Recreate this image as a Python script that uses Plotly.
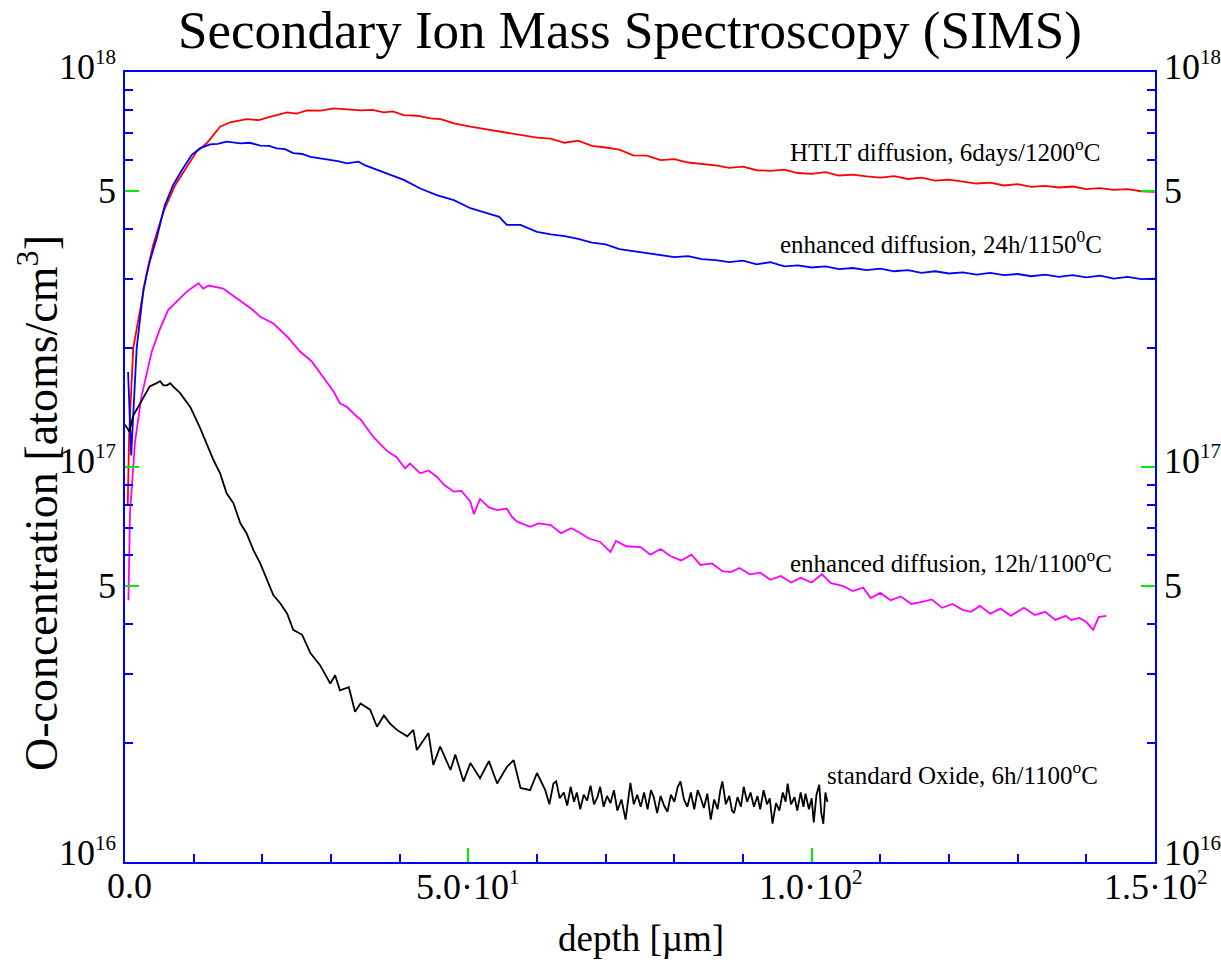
import plotly.graph_objects as go

# ---------------- data ----------------
E16, E17 = 1e16, 1e17

red_x = [0.4, 0.6, 1.2, 2.2, 3.2, 4.1, 5.6, 7.3, 9.0, 10.4, 11.9, 12.9, 13.85, 15.3, 17.7, 19.5, 21.1,
         23.6, 25.0, 26.5, 28.5, 30.4, 32.5, 34.3, 36.0, 37.7, 39.0, 40.6, 42.5, 44.5, 46.0, 47.9, 50.3,
         52.7, 55.1, 57.5, 60.0, 62, 64, 66, 68, 70, 72, 74, 76, 78, 80, 82, 84, 86, 88, 90, 92, 94, 96,
         98, 100, 102, 104, 106, 108, 110, 112, 114, 116, 118, 120, 122, 124, 126, 128, 130, 132, 134,
         136, 138, 140, 142, 144, 146, 148, 150]
red_y = [0.80, 1.2, 2.0, 2.49, 3.12, 3.65, 4.43, 5.17, 5.76, 6.28, 6.6, 6.93, 7.27, 7.46, 7.6, 7.55, 7.7,
         7.9, 7.85, 8.0, 7.98, 8.09, 8.05, 8.0, 8.02, 7.9, 7.95, 7.78, 7.75, 7.63, 7.6, 7.41, 7.27,
         7.16, 7.03, 6.95, 6.82, 6.78, 6.62, 6.70, 6.50, 6.44, 6.36, 6.15, 6.14, 5.98, 6.02, 5.90, 5.86,
         5.80, 5.72, 5.76, 5.64, 5.62, 5.66, 5.55, 5.52, 5.58, 5.47, 5.50, 5.44, 5.40, 5.45, 5.36, 5.40,
         5.31, 5.34, 5.28, 5.22, 5.25, 5.16, 5.20, 5.12, 5.15, 5.10, 5.13, 5.05, 5.08, 5.03, 5.05, 4.99, 4.97]

blue_x = [0.45, 0.9, 1.7, 2.7, 3.6, 4.6, 5.8, 7.0, 8.3, 9.7, 10.9, 12.4, 13.5, 14.8, 16.8, 18.2, 19.7,
          21.0, 22.1, 23.3, 24.5, 25.8, 27.0, 28.2, 29.4, 31.0, 32.3, 34.0, 35.0, 36.2, 38.1, 40.6, 43.0,
          45.4, 47.9, 50.3, 52.7, 54.5, 55.6, 57.6, 60, 62, 64, 66, 68, 70, 72, 74, 76, 78, 80, 82, 84,
          86, 88, 90, 92, 94, 96, 98, 100, 102, 104, 106, 108, 110, 112, 114, 116, 118, 120, 122, 124,
          126, 128, 130, 132, 134, 136, 138, 140, 142, 144, 146, 148, 150]
blue_y = [1.74, 1.07, 2.0, 2.83, 3.31, 3.79, 4.6, 5.17, 5.65, 6.16, 6.41, 6.56, 6.58, 6.66, 6.6, 6.62, 6.51,
          6.5, 6.41, 6.38, 6.23, 6.2, 6.1, 6.05, 5.99, 5.95, 5.87, 5.93, 5.8, 5.7, 5.54, 5.33, 5.07,
          4.88, 4.74, 4.52, 4.39, 4.3, 4.1, 4.1, 3.94, 3.88, 3.84, 3.78, 3.70, 3.66, 3.56, 3.52, 3.48,
          3.44, 3.40, 3.42, 3.36, 3.34, 3.30, 3.33, 3.26, 3.30, 3.22, 3.24, 3.20, 3.22, 3.17, 3.19, 3.15,
          3.18, 3.13, 3.15, 3.10, 3.13, 3.09, 3.11, 3.07, 3.10, 3.06, 3.08, 3.04, 3.07, 3.03, 3.06, 3.02,
          3.05, 3.00, 3.03, 2.99, 3.00]

magenta_x = [0.5, 0.73, 1.46, 2.4, 3.9, 5.1, 6.3, 7.5, 9.0, 10.7, 11.4, 12.2, 13.1, 14.3, 15.3, 16.3,
             17.7, 18.6, 19.7, 21.6, 23.6, 25.5, 27.2, 28.4, 30.4, 31.3, 32.3, 33.8, 34.3, 36.2, 38.1,
             39.5, 40.8, 41.5, 43.0, 44.2, 45.4, 46.5, 47.9, 49.0, 50.3, 50.8, 51.7, 53.0, 54.2, 55.6,
             56.3, 57.1, 59.0, 60.2, 62.0, 63.5, 65.0, 66.3, 67.5, 69.2, 70.7, 71.5, 73.0, 75.1, 76.5,
             78.0, 79.4, 81.0, 82.5, 83.8, 85.5, 87.0, 88.2, 89.5, 91.0, 92.5, 94.0, 95.5, 97.0, 98.4,
             100.0, 101.5, 102.8, 104.5, 106.0, 107.5, 108.6, 110.0, 111.5, 113.0, 114.5, 115.9, 117.5,
             119.0, 120.5, 122.0, 123.2, 124.5, 126.0, 127.5, 129.0, 130.9, 132.5, 134.0, 135.5, 137.0,
             137.8, 139.0, 140.0, 141.0, 141.8, 142.9]
magenta_y = [4.6, 7.65, 11.6, 15.1, 19.6, 22.4, 25.0, 26.2, 27.8, 29.2, 28.3, 28.8, 28.6, 28.3, 27.5, 26.7,
             25.7, 25.0, 24.0, 23.1, 21.4, 19.6, 18.5, 17.3, 15.5, 14.5, 14.2, 13.4, 13.2, 11.9, 11.0,
             10.6, 9.92, 10.2, 9.64, 9.8, 9.45, 9.0, 8.66, 8.7, 8.17, 7.6, 8.3, 7.9, 7.78, 7.85,
             7.5, 7.27, 7.06, 7.2, 7.13, 6.8, 7.0, 6.81, 6.6, 6.46, 6.09, 6.5, 6.3, 6.27, 6.0,
             6.2, 5.95, 5.8, 6.0, 5.65, 5.7, 5.45, 5.42, 5.55, 5.35, 5.4, 5.18, 5.3, 5.1, 5.24,
             5.1, 5.35, 5.08, 5.0, 4.85, 4.95, 4.66, 4.8, 4.6, 4.7, 4.5, 4.55, 4.62,
             4.4, 4.5, 4.35, 4.3, 4.45, 4.25, 4.38, 4.2, 4.4, 4.22, 4.3, 4.1, 4.2,
             4.1, 4.15, 4.05, 3.87, 4.17, 4.2]

black_x = [0.0, 0.63, 1.2, 2.2, 2.9, 3.6, 4.6, 5.1, 5.6, 6.1, 6.6, 7.0, 8.0, 9.5, 10.9, 11.9, 12.9,
           13.85, 14.8, 15.8, 16.8, 17.7, 18.7, 19.7, 20.7, 21.6, 22.6, 23.6, 24.5, 25.8, 27.0, 28.4,
           29.9, 30.6, 31.3, 32.6, 33.5, 34.3, 35.7, 36.7, 37.7, 38.6, 39.6, 41.1, 42.0, 42.5, 44.2,
           44.9, 45.9, 47.4, 48.1, 49.3, 50.3, 51.7, 53.0, 54.2, 55.6, 56.6, 57.6, 59.0, 60.0,
           61.2, 61.8, 62.4, 62.8, 63.3, 63.9, 64.4, 64.9, 65.4, 65.8, 66.3, 66.8, 67.3, 67.8, 68.3,
           68.8, 69.2, 69.7, 70.2, 70.7, 71.2, 71.7, 72.3, 72.9, 73.3, 73.6, 74.1, 74.6, 75.1, 75.6,
           76.1, 76.6, 77.0, 77.5, 78.0, 78.5, 79.0, 79.5, 80.0, 80.5, 80.9, 81.4, 81.9, 82.4, 82.9,
           83.4, 83.8, 84.3, 84.8, 85.3, 85.8, 86.3, 86.7, 87.0, 87.5, 88.0, 88.4, 88.7, 89.2, 89.7,
           90.1, 90.6, 91.1, 91.6, 92.1, 92.5, 93.0, 93.5, 93.9, 94.3, 94.8, 95.3, 95.8, 96.2, 96.5,
           97.0, 97.5, 97.9, 98.4, 98.8, 99.1, 99.6, 100.0, 100.3, 100.7, 101.1, 101.4, 101.7, 102.0,
           102.3]
black_y = [12.8, 12.3, 13.5, 14.5, 15.2, 16.0, 16.3, 16.5, 16.1, 16.1, 16.3, 16.0, 15.4, 14.2, 12.6, 11.5, 10.4,
           9.64, 8.58, 8.09, 7.2, 6.8, 6.16, 5.7, 5.18, 4.74, 4.52, 4.26, 3.87, 3.76, 3.38, 3.15,
           2.83, 2.97, 2.72, 2.77, 2.40, 2.52, 2.43, 2.20, 2.35, 2.24, 2.16, 2.08, 2.16, 1.92, 2.12,
           1.76, 1.96, 1.71, 1.87, 1.60, 1.78, 1.63, 1.80, 1.58, 1.74, 1.81, 1.54, 1.52, 1.68,
           1.52, 1.40, 1.58, 1.60, 1.45, 1.50, 1.39, 1.55, 1.42, 1.50, 1.36, 1.48, 1.43, 1.56, 1.40,
           1.46, 1.55, 1.38, 1.47, 1.41, 1.52, 1.35, 1.44, 1.28, 1.45, 1.585, 1.40, 1.48, 1.38, 1.50,
           1.36, 1.52, 1.46, 1.33, 1.47, 1.39, 1.34, 1.48, 1.42, 1.55, 1.60, 1.44, 1.38, 1.50, 1.36,
           1.52, 1.46, 1.37, 1.49, 1.28, 1.44, 1.36, 1.52, 1.60, 1.40, 1.47, 1.35, 1.33, 1.46, 1.38,
           1.55, 1.42, 1.50, 1.38, 1.47, 1.36, 1.52, 1.40, 1.45, 1.25, 1.41, 1.35, 1.50, 1.42, 1.58,
           1.40, 1.46, 1.35, 1.50, 1.38, 1.49, 1.36, 1.45, 1.26, 1.48, 1.57, 1.33, 1.25, 1.50,
           1.42]

series = [
    ("HTLT diffusion, 6days/1200°C", red_x, [v * E17 for v in red_y], "#ff0000"),
    ("enhanced diffusion, 24h/1150°C", blue_x, [v * E17 for v in blue_y], "#0000ff"),
    ("enhanced diffusion, 12h/1100°C", magenta_x, [v * E16 for v in magenta_y], "#ff00ff"),
    ("standard Oxide, 6h/1100°C", black_x, [v * E16 for v in black_y], "#000000"),
]

x_major = [50, 100]
x_minor = [10, 20, 30, 40, 60, 70, 80, 90, 110, 120, 130, 140]
y_major = [5e16, 1e17, 5e17]
y_minor = [2e16, 3e16, 4e16, 6e16, 7e16, 8e16, 9e16, 2e17, 3e17, 4e17, 6e17, 7e17, 8e17, 9e17]

# ---------------- figure ----------------
W, H = 1221, 963
L, R, T, B = 125, 1155, 72, 862
FONT = "Liberation Serif, Times New Roman, Times, serif"

fig = go.Figure()
for name, xs, ys, col in series:
    fig.add_trace(go.Scatter(x=xs, y=ys, mode="lines", name=name,
                             line=dict(color=col, width=1.8), showlegend=False))

axis_common = dict(showgrid=False, zeroline=False, showline=True, linecolor="#0000ff", linewidth=2,
                   ticks="inside", tickcolor="#00ee00", ticklen=14, tickwidth=2, showticklabels=False)
fig.update_xaxes(range=[0, 150], tickmode="array", tickvals=x_major, mirror=True,
                 minor=dict(tickmode="array", tickvals=x_minor, ticks="inside", ticklen=8,
                            tickwidth=2, tickcolor="#0000ff"), **axis_common)
fig.update_yaxes(type="log", range=[16, 18], tickmode="array", tickvals=y_major, mirror="ticks",
                 minor=dict(tickmode="array", tickvals=y_minor, ticks="inside", ticklen=8,
                            tickwidth=2, tickcolor="#0000ff"), **axis_common)


def px(xp):
    return (xp - L) / (R - L)


def py(yp):
    return (B - yp) / (B - T)


def ann(text, x, y, size, xanchor="center", yanchor="middle", angle=0):
    fig.add_annotation(text=text, x=px(x), y=py(y), xref="paper", yref="paper", showarrow=False,
                       xanchor=xanchor, yanchor=yanchor, textangle=angle,
                       font=dict(family=FONT, size=size, color="black"))


def sup(s, size):
    return '<sup><span style="font-size:%dpx">%s</span></sup>' % (size, s)


# title and axis titles
ann("Secondary Ion Mass Spectroscopy (SIMS)", 630, 31, 53)
ann("O-concentration [atoms/cm<sup>3</sup>]", 38, 503, 46, angle=-90)
ann("depth [µm]", 641, 938, 37)

# curve labels
ann("HTLT diffusion, 6days/1200<sup>o</sup>C", 945, 150, 25)
ann("enhanced diffusion, 24h/1150<sup>0</sup>C", 941, 242, 25)
ann("enhanced diffusion, 12h/1100<sup>o</sup>C", 951, 561, 25)
ann("standard Oxide, 6h/1100<sup>o</sup>C", 962, 773, 25)

# y tick labels (left and right)
ylabels = [("10" + sup("18", 21), 66), ("5", 191), ("10" + sup("17", 21), 460), ("5", 586),
           ("10" + sup("16", 21), 852)]
for t, yp in ylabels:
    ann(t, 118, yp, 36, xanchor="right")
    ann(t, 1162, yp, 36, xanchor="left")

# x tick labels
xlabels = [("0.0", 129), ("5.0·10" + sup("1", 21), 468), ("1.0·10" + sup("2", 21), 811),
           ("1.5·10" + sup("2", 21), 1156)]
for t, xp in xlabels:
    ann(t, xp, 886, 36)

fig.update_layout(width=W, height=H, margin=dict(l=L, r=W - R, t=T, b=H - B),
                  plot_bgcolor="white", paper_bgcolor="white",
                  font=dict(family=FONT, color="black"))

fig.write_html("out.html")
